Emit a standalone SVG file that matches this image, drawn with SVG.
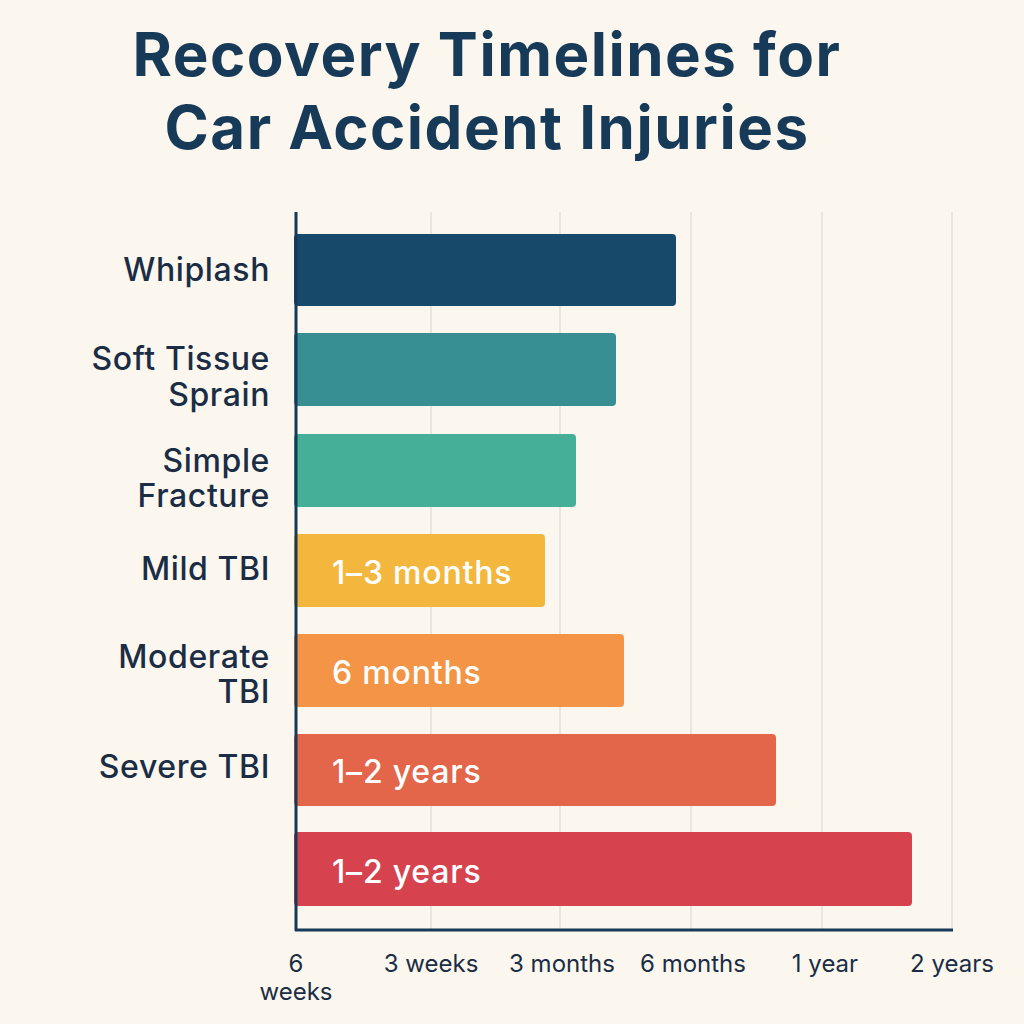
<svg xmlns="http://www.w3.org/2000/svg" width="1024" height="1024" viewBox="0 0 1024 1024">
<style>
.t{font-family:"Inter","Liberation Sans",sans-serif;font-weight:700;font-size:60px;letter-spacing:1.5px;fill:#163a57;text-anchor:middle}
.l{font-family:"Inter","Liberation Sans",sans-serif;font-weight:500;font-size:32px;letter-spacing:0.6px;fill:#1a2d45;text-anchor:end}
.a{font-family:"Inter","Liberation Sans",sans-serif;font-size:24px;fill:#1a2d45;text-anchor:middle}
.b{font-family:"Inter","Liberation Sans",sans-serif;font-weight:500;font-size:32px;letter-spacing:0.8px;fill:#fff}
.g{stroke:#e3e0da;stroke-width:1.5}
</style>
<rect width="1024" height="1024" fill="#fbf7ef"/>
<text class="t" x="487" y="76">Recovery Timelines for</text>
<text class="t" x="487" y="149">Car Accident Injuries</text>
<g id="grid">
<line class="g" x1="431" y1="212" x2="431" y2="930"/>
<line class="g" x1="560" y1="212" x2="560" y2="930"/>
<line class="g" x1="691" y1="212" x2="691" y2="930"/>
<line class="g" x1="822" y1="212" x2="822" y2="930"/>
<line class="g" x1="952" y1="212" x2="952" y2="930"/>
</g>
<g id="bars">
<rect x="294" y="234" width="382" height="72" rx="4" fill="#174a6a"/>
<rect x="294" y="333" width="322" height="73" rx="4" fill="#378f94"/>
<rect x="294" y="434" width="282" height="73" rx="4" fill="#45af98"/>
<rect x="294" y="534" width="251" height="73" rx="4" fill="#f3b73e"/>
<text class="b" x="332" y="584">1–3 months</text>
<rect x="294" y="634" width="330" height="73" rx="4" fill="#f39446"/>
<text class="b" x="332" y="684">6 months</text>
<rect x="294" y="734" width="482" height="72" rx="4" fill="#e3664a"/>
<text class="b" x="332" y="783">1–2 years</text>
<rect x="294" y="832" width="618" height="74" rx="4" fill="#d6434f"/>
<text class="b" x="332" y="883">1–2 years</text>
</g>
<g id="axes" stroke="#163a57" stroke-width="3">
<line x1="296" y1="212" x2="296" y2="931"/>
<line x1="295" y1="930" x2="953" y2="930"/>
</g>
<g id="labels">
<text class="l" x="270" y="281">Whiplash</text>
<text class="l" x="270" y="370">Soft Tissue</text>
<text class="l" x="270" y="406">Sprain</text>
<text class="l" x="270" y="472">Simple</text>
<text class="l" x="270" y="507">Fracture</text>
<text class="l" x="270" y="580">Mild TBI</text>
<text class="l" x="270" y="668">Moderate</text>
<text class="l" x="270" y="703">TBI</text>
<text class="l" x="270" y="778">Severe TBI</text>
</g>
<g id="ticks">
<text class="a" x="296" y="972">6</text>
<text class="a" x="296" y="1000">weeks</text>
<text class="a" x="431" y="972">3 weeks</text>
<text class="a" x="562" y="972">3 months</text>
<text class="a" x="693" y="972">6 months</text>
<text class="a" x="825" y="972">1 year</text>
<text class="a" x="952" y="972">2 years</text>
</g>
</svg>
